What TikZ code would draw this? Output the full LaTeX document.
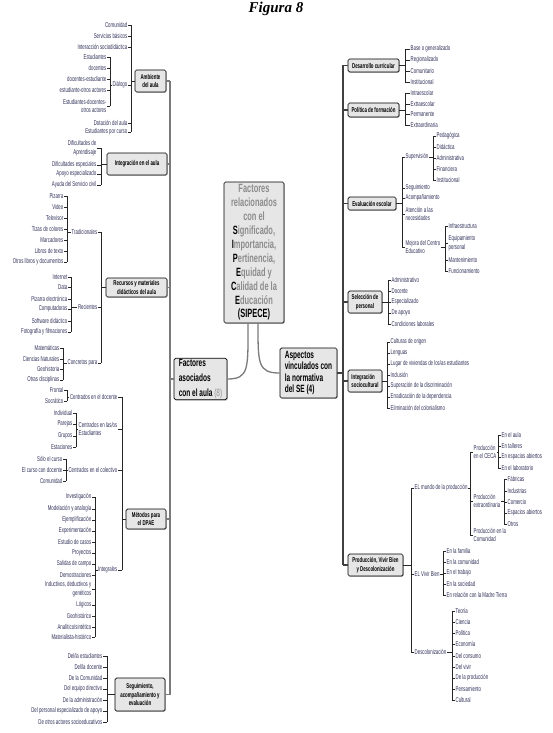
\documentclass[tikz,border=0pt]{standalone}
\usepackage{fontspec}
\newfontfamily\cond{Liberation Sans}[FakeStretch=0.62]
\newfontfamily\titlefont{Liberation Serif}
\usetikzlibrary{shadows}

\definecolor{leafcol}{HTML}{2E2E58}
\definecolor{boxfill}{HTML}{E6E6E6}
\definecolor{trunkcol}{HTML}{7A7A7A}
\definecolor{sipgray}{HTML}{8C8C8C}

\tikzset{
  leafL/.style={anchor=east,inner sep=0.5pt,align=right,text=leafcol,font=\cond\fontsize{7}{8.5}\selectfont},
  leafR/.style={anchor=west,inner sep=0.5pt,align=left,text=leafcol,font=\cond\fontsize{7}{8.5}\selectfont},
  topic/.style={draw=black,line width=0.7pt,fill=boxfill,rounded corners=1.5pt,inner sep=1pt,align=center,
    font=\cond\bfseries\fontsize{7}{8.5}\selectfont,drop shadow={shadow xshift=0.8pt,shadow yshift=-0.8pt,fill=black!45}},
  brk/.style={draw=black!85,line width=0.6pt},
  trunk/.style={draw=trunkcol,line width=1.3pt},
  trunkdark/.style={draw=black!75,line width=1.2pt},
}

% columns of items and their brackets
\newcommand\leftitems[3]{\foreach \yy/\tx [count=\ii] in {#3}{\node[leafL] (#2\ii) at (#1,\yy) {\tx};}}
\newcommand\rightitems[3]{\foreach \yy/\tx [count=\ii] in {#3}{\node[leafR] (#2\ii) at (#1,\yy) {\tx};}}
\newcommand\leftbar[3]{\foreach \ii in {1,...,#3}{\draw[brk] (#2\ii.east) -- (#2\ii.east -| #1);}
  \draw[brk] (#21.east -| #1) -- (#2#3.east -| #1);}
\newcommand\rightbar[3]{\foreach \ii in {1,...,#3}{\draw[brk] (#2\ii.west) -- (#2\ii.west -| #1);}
  \draw[brk] (#21.west -| #1) -- (#2#3.west -| #1);}

\begin{document}
\begin{tikzpicture}[x=1pt,y=-1pt]
\useasboundingbox (0,0) rectangle (553,733);
\node[font=\titlefont\bfseries\itshape\fontsize{15}{18}\selectfont] (title) at (276,9) {Figura 8};

% centre
\node[topic,minimum width=60pt,minimum height=141pt,text=sipgray,
  font=\cond\bfseries\fontsize{12}{13.9}\selectfont] (sip) at (254,252.5)
  {Factores\\relacionados\\con el\\{\color{black}S}ignificado,\\{\color{black}I}mportancia,\\
   {\color{black}P}ertinencia,\\{\color{black}E}quidad y\\{\color{black}C}alidad de la\\
   {\color{black}E}ducación\\{\color{black}(SIPECE)}};
\node[topic,align=left,minimum width=53pt,minimum height=40pt,
  font=\cond\bfseries\fontsize{10.5}{15}\selectfont] (fa) at (200.5,379)
  {Factores\\asociados\\con el aula {\mdseries\color{sipgray}(8)}};
\node[topic,align=left,minimum width=57pt,minimum height=50pt,
  font=\cond\bfseries\fontsize{10.5}{11.5}\selectfont] (asp) at (308.5,373)
  {Aspectos\\vinculados con\\la normativa\\del SE (4)};
\draw[trunk] ([xshift=-6pt]sip.south) .. controls +(0,45) and +(22,0) .. (fa.east);
\draw[trunk] ([xshift=4pt]sip.south) .. controls +(0,40) and +(-22,0) .. (asp.west);

% left boxes
\node[topic,minimum width=31pt,minimum height=22pt] (amb) at (150.5,81) {Ambiente\\del aula};
\node[topic,minimum width=60pt,minimum height=22pt] (integ) at (137,164) {Integración en el aula};
\node[topic,minimum width=61pt,minimum height=19pt] (rec) at (136.5,287.5) {Recursos y materiales\\didácticos del aula};
\node[topic,minimum width=40pt,minimum height=20pt] (met) at (146,519) {Métodos para\\el DPAE};
\node[topic,minimum width=50pt,minimum height=33pt] (seg) at (140,694.5) {Seguimiento,\\acompañamiento y\\evaluación};

\leftitems{128}{amb}{25/Comunidad, 36/Servicios básicos, 47/Interacción sociodidáctica, 85/Diálogo,
  123/Dotación del aula, 132/Estudiantes por curso}
\leftitems{107}{dia}{57/Estudiantes, 68/docentes, 79/docentes-estudiante, 90/estudiante-otros actores,
  106/{Estudiantes-docentes-\\otros actores}}
\leftitems{97}{int}{148/{Dificultades de\\Aprendisaje}, 165/Dificultades especiales, 174/Apoyo especializado,
  185/Ayuda del Servicio civil}
\leftitems{98}{rec}{232/Tradicionales, 307/Recientes, 363/Concretos para}
\leftitems{64}{tra}{196/Pizarra, 207/Video, 218/Televisor, 229/Tizas de colores, 240/Marcadores,
  251/Libros de texto, 262/Otros libros y documentos}
\leftitems{68}{rcn}{277/Internet, 287/Data, 299/Pizarra electrónica, 309/Computadoras,
  321/Software didáctico, 332/Fotografía y filmaciones}
\leftitems{60}{con}{348/Matemáticas, 359/Ciencias Naturales, 369/Geohistoria, 380/Otras disciplinas}
\node[leafL] (met1) at (118,397) {Centrados en el docente};
\node[leafR] (met2) at (78,429) {Centrados en las/os\\Estudiantes};
\node[leafL] (met3) at (118,470) {Centrados en el colectivo};
\node[leafL] (met4) at (118,570) {Integrales};
\leftitems{64}{mdo}{390/Frontal, 401/Socrático}
\leftitems{73}{mes}{413/Individual, 424/Parejas, 436/Grupos, 447/Estaciones}
\leftitems{63}{mco}{459/Sólo el curso, 470/El curso con docente, 481/Comunidad}
\leftitems{92}{min}{497/Investigación, 509/Modelación y analogía, 520/Ejemplificación, 531/Experimentación,
  542/Estudio de casos, 553/Proyectos, 564/Salidas de campo, 575/Demostraciones,
  589/{Inductivos, deductivos y\\genéticos}, 605/Lógicos, 616/Geohistórico, 627/{Analítico/sintético},
  637/Materialista-histórico}
\leftitems{103}{seg}{656/{Del/la estudiantes}, 667/{Del/la docente}, 678/De la Comunidad,
  689/Del equipo directivo, 700/De la administración, 711/Del personal especializado de apoyo,
  722/De otros actores socioeducativos}

\coordinate (trunkL) at (170,0);
\coordinate (barAmb) at (131,0);
\coordinate (barDia) at (110,0);
\coordinate (barInt) at (101,0);
\coordinate (barRec) at (101,0);
\coordinate (barTra) at (67,0);
\coordinate (barRcn) at (71,0);
\coordinate (barCon) at (63,0);
\coordinate (barMet) at (122,0);
\coordinate (barMdo) at (67,0);
\coordinate (barMes) at (76,0);
\coordinate (barMco) at (66,0);
\coordinate (barMin) at (95,0);
\coordinate (barSeg) at (107,0);

\draw[trunk] (amb.east -| trunkL) -- (seg.east -| trunkL);
\foreach \bx in {amb,integ,rec,met,seg} \draw[trunk] (\bx.east) -- (\bx.east -| trunkL);
\draw[trunk] (fa.west) -- (fa.west -| trunkL);

\leftbar{barAmb}{amb}{6} \draw[brk] (amb.west) -- (amb.west -| barAmb);
\leftbar{barDia}{dia}{5} \draw[brk] (amb4.west) -- (amb4.west -| barDia);
\leftbar{barInt}{int}{4} \draw[brk] (integ.west) -- (integ.west -| barInt);
\leftbar{barRec}{rec}{3} \draw[brk] (rec.west) -- (rec.west -| barRec);
\leftbar{barTra}{tra}{7} \draw[brk] (rec1.west) -- (rec1.west -| barTra);
\leftbar{barRcn}{rcn}{6} \draw[brk] (rec2.west) -- (rec2.west -| barRcn);
\leftbar{barCon}{con}{4} \draw[brk] (rec3.west) -- (rec3.west -| barCon);
\leftbar{barMet}{met}{4} \draw[brk] (met.west) -- (met.west -| barMet);
\leftbar{barMdo}{mdo}{2} \draw[brk] (met1.west) -- (met1.west -| barMdo);
\leftbar{barMes}{mes}{4} \draw[brk] (met2.west) -- (met2.west -| barMes);
\leftbar{barMco}{mco}{3} \draw[brk] (met3.west) -- (met3.west -| barMco);
\leftbar{barMin}{min}{13} \draw[brk] (met4.west) -- (met4.west -| barMin);
\leftbar{barSeg}{seg}{7} \draw[brk] (seg.west) -- (seg.west -| barSeg);

% right boxes
\node[topic,minimum width=51pt,minimum height=13pt] (dcur) at (373.5,65.5) {Desarrollo curricular};
\node[topic,minimum width=51pt,minimum height=14pt] (pform) at (373.5,110) {Política de formación};
\node[topic,minimum width=48pt,minimum height=13pt] (eval) at (372,203.5) {Evaluación escolar};
\node[topic,minimum width=34pt,minimum height=22pt] (selp) at (365,302) {Selección de\\personal};
\node[topic,align=left,minimum width=34pt,minimum height=22pt] (isoc) at (365,381) {Integración\\sociocultural};
\node[topic,minimum width=55pt,minimum height=22pt] (prodv) at (375.5,565) {Producción, Vivir Bien\\y Descolonización};

\rightitems{410}{des}{49/Base o generalizado, 60/Regionalizado, 71/Comunitario, 82/Institucional}
\rightitems{410}{pol}{93/Intraescolar, 104/Extraescolar, 114/Permanente, 125/Extraordinaria}
\rightitems{405}{eva}{157/Supervisión, 188/Seguimiento, 198/Acompañamiento, 214/{Atención a las\\necesidades},
  247/{Mejora del Centro\\Educativo}}
\rightitems{436}{sup}{136/Pedagógica, 147/Didáctica, 158/Administrativa, 169/Financiera, 180/Institucional}
\rightitems{448}{mej}{226/Infraestructura, 243/{Equipamiento\\personal}, 260/Mantenimiento, 271/Funcionamiento}
\rightitems{391}{sel}{280/Administrativo, 291/Docente, 302/Especializado, 313/De apoyo, 324/Condiciones laborales}
\rightitems{390}{isc}{342/Culturas de origen, 353/Lenguas, 364/{Lugar de viviendas de los/as estudiantes},
  375/Inclusión, 386/Superación de la discriminación, 397/Erradicación de la dependencia,
  408/Eliminación del colonialismo}
\rightitems{414}{pro}{488/EL mundo de la producción, 574/EL Vivir Bien, 652/Descolonización}
\rightitems{473}{mun}{452/{Producción\\en el CECA}, 501/{Producción\\extraordinaria}, 535/{Producción en la\\Comunidad}}
\rightitems{501}{cec}{435/En el aula, 446/En talleres, 457/En espacios abiertos, 468/En el laboratorio}
\rightitems{507}{ext}{479/Fábricas, 491/Industrias, 502/Comercio, 513/Espacios abiertos, 524/Otros}
\rightitems{446}{viv}{551/En la familia, 562/En la comunidad, 573/En el trabajo, 584/En la sociedad,
  595/En relación con la Madre Tierra}
\rightitems{455}{dsc}{611/Teoría, 622/Ciencia, 633/Política, 644/Economía, 656/Del consumo, 667/Del vivir,
  678/De la producción, 689/Pensamiento, 700/Cultural}

\coordinate (trunkR) at (343,0);
\coordinate (barDes) at (405,0);
\coordinate (barPol) at (405,0);
\coordinate (barEva) at (402,0);
\coordinate (barSup) at (433,0);
\coordinate (barMej) at (445,0);
\coordinate (barSel) at (388,0);
\coordinate (barIsc) at (387,0);
\coordinate (barPro) at (411,0);
\coordinate (barMun) at (470,0);
\coordinate (barCec) at (498,0);
\coordinate (barExt) at (504,0);
\coordinate (barViv) at (443,0);
\coordinate (barDsc) at (452,0);

\draw[trunkdark] (dcur.west -| trunkR) -- (prodv.west -| trunkR);
\foreach \bx in {dcur,pform,eval,selp,isoc,prodv} \draw[trunkdark] (\bx.west) -- (\bx.west -| trunkR);
\draw[trunkdark] (asp.east) -- (asp.east -| trunkR);

\rightbar{barDes}{des}{4} \draw[brk] (dcur.east) -- (dcur.east -| barDes);
\rightbar{barPol}{pol}{4} \draw[brk] (pform.east) -- (pform.east -| barPol);
\rightbar{barEva}{eva}{5} \draw[brk] (eval.east) -- (eval.east -| barEva);
\rightbar{barSup}{sup}{5} \draw[brk] (eva1.east) -- (eva1.east -| barSup);
\rightbar{barMej}{mej}{4} \draw[brk] (eva5.east) -- (eva5.east -| barMej);
\rightbar{barSel}{sel}{5} \draw[brk] (selp.east) -- (selp.east -| barSel);
\rightbar{barIsc}{isc}{7} \draw[brk] (isoc.east) -- (isoc.east -| barIsc);
\rightbar{barPro}{pro}{3} \draw[brk] (prodv.east) -- (prodv.east -| barPro);
\rightbar{barMun}{mun}{3} \draw[brk] (pro1.east) -- (pro1.east -| barMun);
\rightbar{barCec}{cec}{4} \draw[brk] (mun1.east) -- (mun1.east -| barCec);
\rightbar{barExt}{ext}{5} \draw[brk] (mun2.east) -- (mun2.east -| barExt);
\rightbar{barViv}{viv}{5} \draw[brk] (pro2.east) -- (pro2.east -| barViv);
\rightbar{barDsc}{dsc}{9} \draw[brk] (pro3.east) -- (pro3.east -| barDsc);
\end{tikzpicture}
\end{document}
